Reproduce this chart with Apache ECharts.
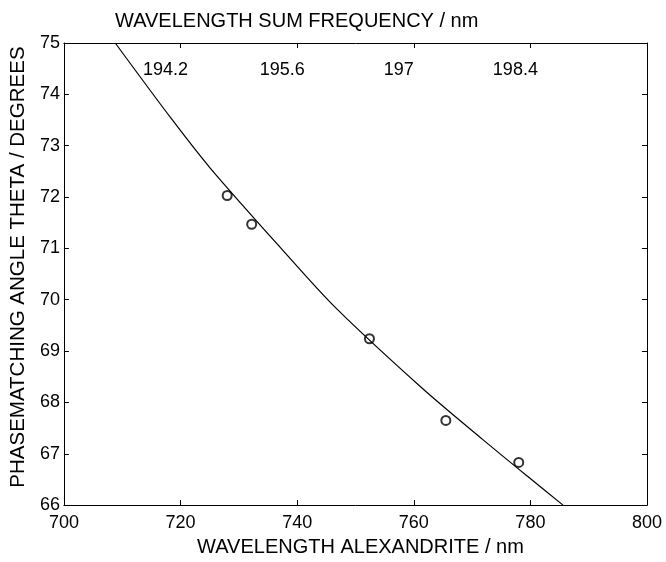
<!DOCTYPE html>
<html>
<head>
<meta charset="utf-8">
<script src="https://cdn.jsdelivr.net/npm/echarts@6/dist/echarts.min.js"></script>
<style>
html,body{margin:0;padding:0;background:#fff;}
#chart{width:666px;height:562px;}
</style>
</head>
<body>
<div id="chart"></div>
<script>
// Fitted curve: wavelength alexandrite (nm) vs angle (deg)
var curveX = [708.8, 718.4, 725.05, 737.25, 746.45, 761.4, 771.8, 779.4, 785.6];
var curveY = [75.0, 73.53, 72.57, 71.00, 69.86, 68.28, 67.28, 66.57, 66.0];
// Measured points
var measX = [728.0, 732.2, 752.4, 765.5, 778.0];
var measY = [72.03, 71.47, 69.24, 67.65, 66.83];
// Secondary (top) axis tick labels: sum frequency wavelength (nm)
var topTickValues = [720, 740, 760, 780];
var topTickLabels = ['194.2', '195.6', '197', '198.4'];

var FONT = 'Liberation Sans, Arial, Helvetica, sans-serif';

var curveData = curveX.map(function (x, i) { return [x, curveY[i]]; });
var measData = measX.map(function (x, i) { return [x, measY[i]]; });

var chart = echarts.init(document.getElementById('chart'), null, {renderer: 'canvas'});
var axisLineStyle = {show: true, lineStyle: {color: '#000', width: 1}};
var tickStyle = {show: true, inside: true, length: 5, lineStyle: {color: '#000', width: 1}};

chart.setOption({
  animation: false,
  backgroundColor: '#fff',
  title: {
    text: 'WAVELENGTH SUM FREQUENCY / nm',
    left: 110, top: 6,
    textStyle: {fontFamily: FONT, fontSize: 20, fontWeight: 'normal', color: '#000'}
  },
  grid: {left: 55, right: 19, top: 43, bottom: 50},
  xAxis: [
    {
      type: 'value', position: 'bottom', min: 700, max: 800, interval: 20,
      axisLine: axisLineStyle, axisTick: tickStyle, splitLine: {show: false},
      axisLabel: {fontFamily: FONT, fontSize: 18, color: '#000', margin: 9},
      name: 'WAVELENGTH ALEXANDRITE / nm', nameLocation: 'middle', nameGap: 24,
      nameTextStyle: {fontFamily: FONT, fontSize: 20, color: '#000', padding: [0, 0, 0, 10]}
    },
    {
      type: 'value', position: 'top', min: 700, max: 800, interval: 20,
      axisLine: axisLineStyle, axisTick: tickStyle, splitLine: {show: false},
      axisLabel: {
        inside: true, fontFamily: FONT, fontSize: 18, color: '#000', margin: 18,
        padding: [0, 30, 0, 0],
        formatter: function (v) {
          var i = topTickValues.indexOf(v);
          return i >= 0 ? topTickLabels[i] : '';
        }
      }
    }
  ],
  yAxis: [
    {
      type: 'value', position: 'left', min: 66, max: 75, interval: 1,
      axisLine: axisLineStyle, axisTick: tickStyle, splitLine: {show: false},
      axisLabel: {fontFamily: FONT, fontSize: 18, color: '#000', margin: 4},
      name: 'PHASEMATCHING ANGLE THETA / DEGREES', nameLocation: 'middle', nameGap: 29,
      nameTextStyle: {fontFamily: FONT, fontSize: 20.5, color: '#000', padding: [0, 0, 0, 14]}
    },
    {
      type: 'value', position: 'right', min: 66, max: 75, interval: 1,
      axisLine: axisLineStyle, axisTick: tickStyle, splitLine: {show: false},
      axisLabel: {show: false}
    }
  ],
  series: [
    {
      type: 'line', xAxisIndex: 0, yAxisIndex: 0, data: curveData,
      smooth: 0.3, showSymbol: false, symbol: 'none',
      lineStyle: {color: '#000', width: 1.2}
    },
    {
      type: 'scatter', xAxisIndex: 0, yAxisIndex: 0, data: measData,
      symbol: 'emptyCircle', symbolSize: 9,
      itemStyle: {color: '#000', borderColor: '#000', borderWidth: 1}
    }
  ]
});
</script>
</body>
</html>
